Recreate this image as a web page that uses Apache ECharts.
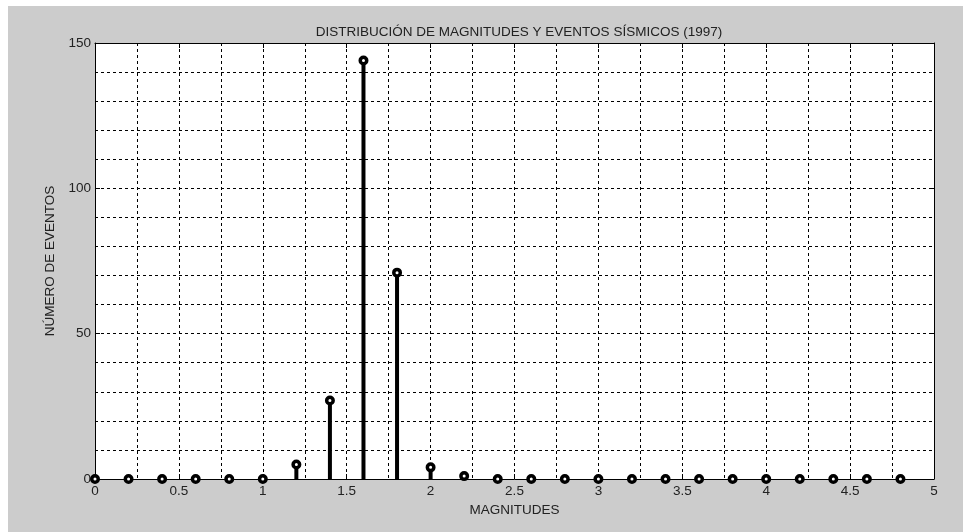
<!DOCTYPE html>
<html>
<head>
<meta charset="utf-8">
<script src="https://cdn.jsdelivr.net/npm/echarts@6/dist/echarts.min.js"></script>
<style>
html,body{margin:0;padding:0;background:#fff;}
#chart{width:963px;height:532px;}
</style>
</head>
<body>
<div id="chart"></div>
<script>
const magnitudes = [0, 0.2, 0.4, 0.6, 0.8, 1.0, 1.2, 1.4, 1.6, 1.8, 2.0, 2.2, 2.4, 2.6, 2.8, 3.0, 3.2, 3.4, 3.6, 3.8, 4.0, 4.2, 4.4, 4.6, 4.8];
const counts =     [0, 0,   0,   0,   0,   0,   5,   27,  144, 71,  4,   1,   0,   0,   0,   0,   0,   0,   0,   0,   0,   0,   0,   0,   0];
const titleText = 'DISTRIBUCIÓN DE MAGNITUDES Y EVENTOS SÍSMICOS (1997)';
const xName = 'MAGNITUDES';
const yName = 'NÚMERO DE EVENTOS';

const FONT = '"Liberation Sans", Arial, sans-serif';
const FS = 13.5;
const TXT = '#222';
const chart = echarts.init(document.getElementById('chart'), null, {renderer: 'canvas'});
const dashed = {color: '#000', width: 1, type: [3, 3]};

chart.setOption({
  animation: false,
  backgroundColor: '#fff',
  graphic: [{
    type: 'rect', left: 8, top: 6, z: -10,
    shape: {width: 955, height: 526},
    style: {fill: '#cccccc'}
  }],
  title: {
    text: titleText, left: 514, top: 20, textAlign: 'center',
    textStyle: {fontFamily: FONT, fontSize: FS, fontWeight: 'normal', color: TXT}
  },
  grid: {left: 95, top: 43, right: 29, bottom: 53, show: true, backgroundColor: '#fff', borderColor: '#000', borderWidth: 0},
  xAxis: [{
    type: 'value', min: 0, max: 5, interval: 0.5, position: 'bottom',
    name: xName, nameLocation: 'middle', nameGap: 23,
    nameTextStyle: {fontFamily: FONT, fontSize: FS, color: TXT},
    axisLine: {show: true, onZero: false, lineStyle: {color: '#000', width: 1}},
    axisTick: {show: true, inside: true, length: 5, lineStyle: {color: '#000'}},
    axisLabel: {fontFamily: FONT, fontSize: FS, color: TXT, margin: 5, showMinLabel: true, showMaxLabel: true},
    splitLine: {show: true, lineStyle: dashed},
    minorTick: {show: false, splitNumber: 2},
    minorSplitLine: {show: true, lineStyle: dashed}
  }, {
    type: 'value', min: 0, max: 5, interval: 0.5, position: 'top',
    axisLine: {show: true, onZero: false, lineStyle: {color: '#000', width: 1}},
    axisTick: {show: true, inside: true, length: 5, lineStyle: {color: '#000'}},
    axisLabel: {show: false}, splitLine: {show: false}
  }],
  yAxis: [{
    type: 'value', min: 0, max: 150, interval: 50, position: 'left',
    name: yName, nameLocation: 'middle', nameGap: 33, nameRotate: 90,
    nameTextStyle: {fontFamily: FONT, fontSize: FS, color: TXT},
    axisLine: {show: true, onZero: false, lineStyle: {color: '#000', width: 1}},
    axisTick: {show: true, inside: true, length: 5, lineStyle: {color: '#000'}},
    axisLabel: {fontFamily: FONT, fontSize: FS, color: TXT, margin: 4, showMinLabel: true, showMaxLabel: true},
    splitLine: {show: true, lineStyle: dashed},
    minorTick: {show: false, splitNumber: 5},
    minorSplitLine: {show: true, lineStyle: dashed}
  }, {
    type: 'value', min: 0, max: 150, interval: 50, position: 'right',
    axisLine: {show: true, onZero: false, lineStyle: {color: '#000', width: 1}},
    axisTick: {show: true, inside: true, length: 5, lineStyle: {color: '#000'}},
    axisLabel: {show: false}, splitLine: {show: false}
  }],
  series: [{
    type: 'custom',
    xAxisIndex: 0, yAxisIndex: 0,
    clip: false,
    z: 10,
    data: magnitudes.map((m, i) => [m, counts[i]]),
    renderItem: function (params, api) {
      const x = api.value(0), y = api.value(1);
      const p0 = api.coord([x, 0]);
      const p1 = api.coord([x, y]);
      return {
        type: 'group',
        children: [
          {type: 'line', shape: {x1: p0[0], y1: p0[1], x2: p1[0], y2: p1[1]},
           style: {stroke: '#000', lineWidth: 4}},
          {type: 'circle', shape: {cx: p1[0], cy: p1[1], r: 3.25},
           style: {fill: '#fff', stroke: '#000', lineWidth: 3.5}}
        ]
      };
    }
  }]
});
</script>
</body>
</html>
